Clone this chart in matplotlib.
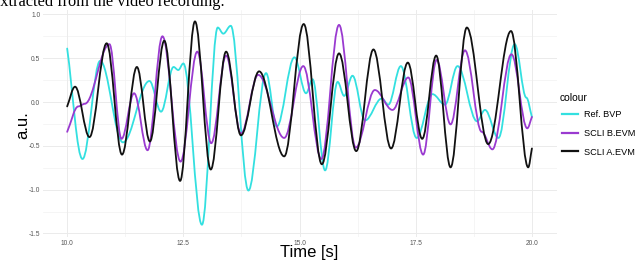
import matplotlib
matplotlib.use('Agg')
import matplotlib.pyplot as plt
from matplotlib.path import Path
from matplotlib.patches import PathPatch
from matplotlib.lines import Line2D

# ---- data (time in s, amplitude in a.u.) ----
series_labels = ['Ref. BVP', 'SCLI B.EVM', 'SCLI A.EVM']
series_colors = ['#33e0e0', '#9a3ad0', '#111111']

bvp_t = [10.00, 10.33, 10.71, 11.20, 11.77, 12.02, 12.29, 12.39, 12.50, 12.90,
         13.24, 13.36, 13.52, 13.90, 14.28, 14.51, 14.89, 15.14, 15.28, 15.55,
         15.82, 15.96, 16.14, 16.41, 16.77, 16.91, 17.18, 17.52, 17.86, 18.13,
         18.40, 18.82, 18.99, 19.28, 19.63, 19.88, 20.00]
bvp_v = [0.61, -0.65, 0.47, -0.46, 0.24, -0.11, 0.40, 0.365, 0.44, -1.40,
         0.85, 0.78, 0.87, -1.01, 0.33, -0.28, 0.51, 0.10, 0.26, -0.78,
         0.23, 0.07, 0.30, -0.21, 0.04, -0.03, 0.41, -0.41, 0.09, -0.03,
         0.41, -0.22, -0.09, -0.41, 0.66, 0.05, -0.17]

bevm_t = [10.00, 10.24, 10.38, 10.91, 11.17, 11.44, 11.73, 12.05, 12.44, 12.80,
          13.10, 13.42, 13.74, 14.11, 14.67, 15.08, 15.47, 15.85, 16.21, 16.62,
          17.00, 17.34, 17.66, 17.95, 18.25, 18.56, 18.92, 19.15, 19.56, 19.90,
          20.00]
bevm_v = [-0.34, -0.05, -0.02, 0.66, -0.42, 0.10, -0.55, 0.75, -0.68, 0.575,
          -0.47, 0.53, -0.36, 0.31, -0.41, 0.41, -0.65, 0.88, -0.52, 0.137,
          -0.09, 0.28, -0.60, 0.48, -0.255, 0.59, -0.34, -0.54, 0.545, -0.30,
          -0.17]

aevm_t = [10.00, 10.17, 10.48, 10.85, 11.18, 11.50, 11.78, 12.09, 12.43, 12.75,
          13.09, 13.42, 13.74, 14.13, 14.67, 15.09, 15.48, 15.85, 16.22, 16.59,
          16.97, 17.33, 17.64, 17.94, 18.25, 18.60, 19.06, 19.55, 19.92, 20.00]
aevm_v = [-0.05, 0.175, -0.40, 0.67, -0.60, 0.40, -0.45, 0.70, -0.90, 0.92,
          -0.77, 0.575, -0.38, 0.35, -0.62, 0.89, -0.71, 0.555, -0.56, 0.60,
          -0.53, 0.45, -0.42, 0.53, -0.745, 0.85, -0.48, 0.81, -0.745, -0.53]

x_ticks = [10.0, 12.5, 15.0, 17.5, 20.0]
x_tick_labels = ['10.0', '12.5', '15.0', '17.5', '20.0']
x_minor = [11.25, 13.75, 16.25, 18.75]
y_ticks = [-1.5, -1.0, -0.5, 0.0, 0.5, 1.0]
y_tick_labels = ['-1.5', '-1.0', '-0.5', '0.0', '0.5', '1.0']
y_minor = [-1.25, -0.75, -0.25, 0.25, 0.75]


def smooth_path(t, v, k=0.36):
    """Cubic Bezier path through the read stationary points (extrema)."""
    n = len(t)
    slopes = [0.0] * n
    slopes[0] = (v[1] - v[0]) / (t[1] - t[0])
    slopes[-1] = (v[-1] - v[-2]) / (t[-1] - t[-2])
    verts = [(t[0], v[0])]
    codes = [Path.MOVETO]
    for i in range(n - 1):
        h = k * (t[i + 1] - t[i])
        verts += [(t[i] + h, v[i] + slopes[i] * h),
                  (t[i + 1] - h, v[i + 1] - slopes[i + 1] * h),
                  (t[i + 1], v[i + 1])]
        codes += [Path.CURVE4] * 3
    return Path(verts, codes)


plt.rcParams['font.family'] = ['Liberation Sans', 'DejaVu Sans']

fig = plt.figure(figsize=(6.4, 2.65), dpi=100)
ax = fig.add_axes([43 / 640, 1 - 237 / 265, (557 - 43) / 640, (237 - 10) / 265])

ax.set_xlim(9.48, 20.54)
ax.set_ylim(-1.54, 1.05)

for xm in x_minor:
    ax.axvline(xm, color='#f2f2f2', lw=0.5, zorder=0)
for ym in y_minor:
    ax.axhline(ym, color='#f2f2f2', lw=0.5, zorder=0)
for xt in x_ticks:
    ax.axvline(xt, color='#ebebeb', lw=0.7, zorder=0)
for yt in y_ticks:
    ax.axhline(yt, color='#ebebeb', lw=0.7, zorder=0)

for (t, v), col in zip([(bvp_t, bvp_v), (bevm_t, bevm_v), (aevm_t, aevm_v)],
                       series_colors):
    patch = PathPatch(smooth_path(t, v), facecolor='none', edgecolor=col,
                      lw=1.3, transform=ax.transData, zorder=3,
                      capstyle='round', joinstyle='round')
    ax.add_patch(patch)

ax.set_xticks(x_ticks)
ax.set_xticklabels(x_tick_labels)
ax.set_yticks(y_ticks)
ax.set_yticklabels(y_tick_labels)
ax.tick_params(axis='both', length=0, labelsize=4.8, colors='#555555', pad=2)
for s in ax.spines.values():
    s.set_visible(False)

fig.text(309 / 640, 1 - 253 / 265, 'Time [s]', ha='center', va='center',
         fontsize=12, color='black')
fig.text(23 / 640, 1 - 125 / 265, 'a.u.', ha='center', va='center',
         rotation=90, fontsize=12, color='black')

# legend title drawn separately to match the tight ggplot spacing
fig.text(560 / 640, 1 - 98 / 265, 'colour', ha='left', va='center',
         fontsize=7.4, color='black')
handles = [Line2D([], [], color=c, lw=1.6) for c in series_colors]
leg = fig.legend(handles, series_labels, loc='upper left',
                 bbox_to_anchor=(556 / 640, 1 - 104 / 265), frameon=False,
                 fontsize=6.6, handlelength=1.75,
                 handletextpad=0.6, labelspacing=1.05, borderpad=0.2)

fig.text(-7 / 640, 1 - 6.5 / 265, 'extracted from the video recording.',
         ha='left', va='baseline', fontsize=11.8, family='Liberation Serif',
         color='black')

fig.savefig('out.png', dpi=100)
